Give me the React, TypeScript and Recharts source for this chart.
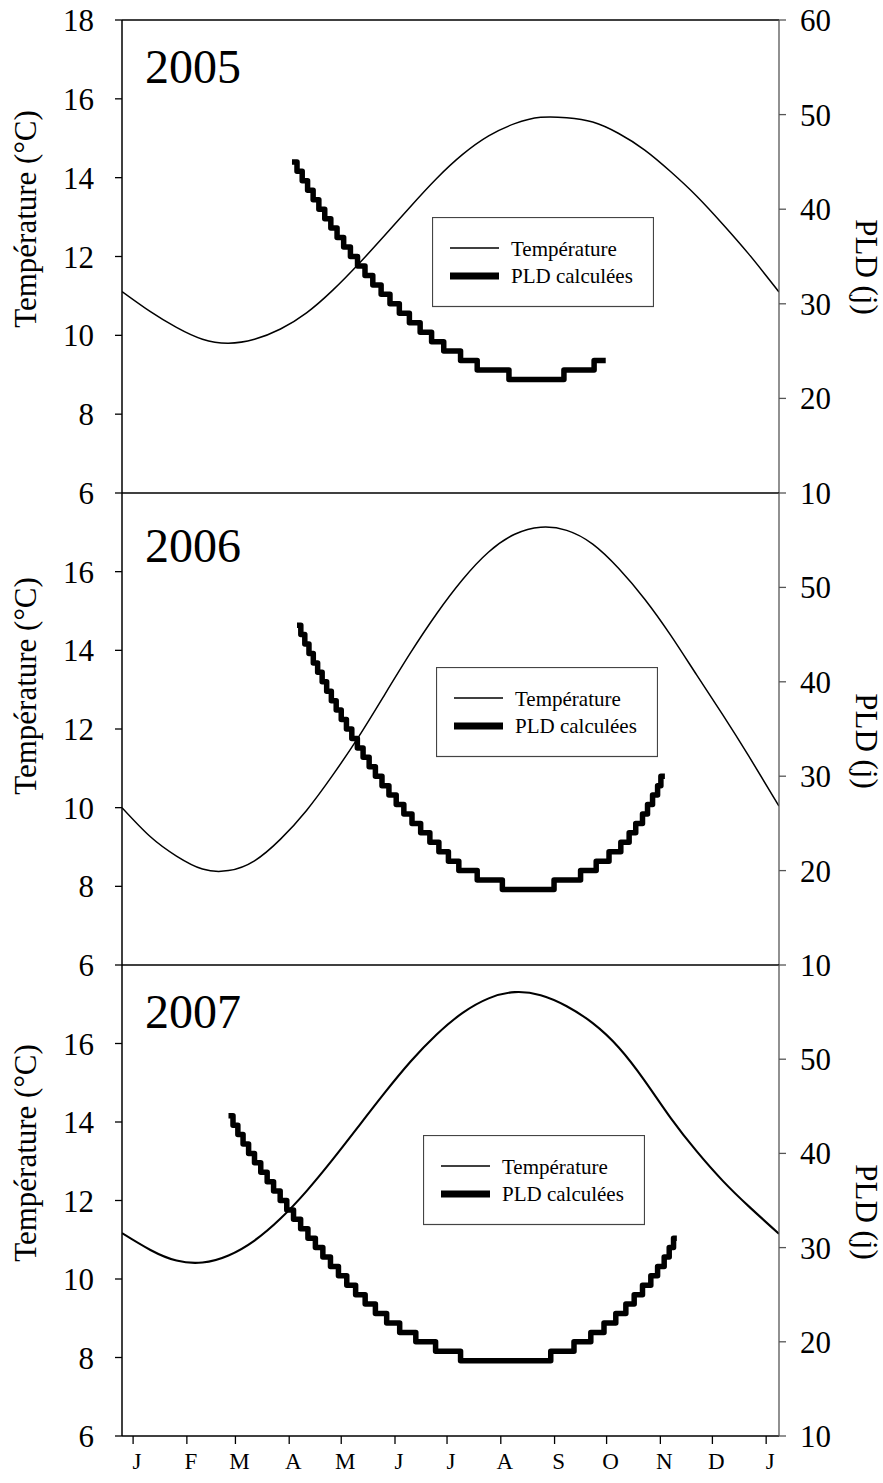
import React from 'react';
import { LineChart, Line, XAxis, YAxis, ReferenceLine, Label } from 'recharts';

const FONT = '"Liberation Serif", "Times New Roman", serif';

// ---- axes ----
const X_MIN = -6.4;
const X_MAX = 372.4;
const monthStarts = [0, 31, 59, 90, 120, 151, 181, 212, 243, 273, 304, 334, 365];
const monthLabels = ['J', 'F', 'M', 'A', 'M', 'J', 'J', 'A', 'S', 'O', 'N', 'D', 'J'];
const tempTicksFull = [6, 8, 10, 12, 14, 16, 18];
const tempTicksCut = [6, 8, 10, 12, 14, 16];
const pldTicksFull = [10, 20, 30, 40, 50, 60];
const pldTicksCut = [10, 20, 30, 40, 50];
const years = ['2005', '2006', '2007'];
const legendTemp = 'Température';
const legendPld = 'PLD calculées';

// ---- temperature (day of year, °C) ----
const tempDays = [-6.4, 10, 25, 40, 55, 70, 85, 100, 115, 130, 145, 160, 175, 190, 205, 220, 235, 250, 265, 280, 295, 310, 325, 340, 355, 372.4];
const temp2005 = [11.11, 10.6, 10.2, 9.9, 9.8, 9.9, 10.16, 10.57, 11.14, 11.81, 12.53, 13.27, 13.98, 14.59, 15.06, 15.37, 15.53, 15.52, 15.41, 15.12, 14.7, 14.15, 13.53, 12.82, 12.06, 11.1];
const temp2006 = [10.0, 9.26, 8.77, 8.44, 8.4, 8.65, 9.2, 9.93, 10.82, 11.8, 12.87, 13.94, 14.93, 15.8, 16.5, 16.95, 17.13, 17.05, 16.7, 16.08, 15.3, 14.38, 13.37, 12.36, 11.31, 10.04];
const temp2007 = [11.17, 10.74, 10.47, 10.42, 10.6, 10.98, 11.54, 12.24, 13.04, 13.89, 14.74, 15.54, 16.23, 16.78, 17.15, 17.31, 17.23, 16.95, 16.52, 15.9, 15.05, 14.1, 13.25, 12.5, 11.85, 11.15];

// ---- computed PLD (day where the value starts, days) ----
const pldDays2005 = [91.6, 94.5, 97.5, 100.6, 103.8, 107.1, 110.5, 114, 117.6, 121.4, 125.3, 129.4, 133.7, 138.2, 143, 148.1, 153.5, 159.3, 165.5, 172.1, 179.1, 188.8, 198.4, 216.7, 248.4, 265.8, 272.5];
const pld2005 = [45, 44, 43, 42, 41, 40, 39, 38, 37, 36, 35, 34, 33, 32, 31, 30, 29, 28, 27, 26, 25, 24, 23, 22, 23, 24, 24];

const pldDays2006 = [94.5, 96.7, 99, 101.4, 103.9, 106.4, 109, 111.6, 114.3, 117.1, 120, 123, 126.1, 129.3, 132.6, 136.1, 139.7, 143.5, 147.5, 151.7, 156.1, 160.8, 165.8, 171.1, 176.3, 181.8, 187.8, 198.4, 212.9, 242.7, 258, 267, 274.4, 281.2, 286, 289.8, 293.7, 296.6, 299.5, 302.4, 304.3, 306.6];
const pld2006 = [46, 45, 44, 43, 42, 41, 40, 39, 38, 37, 36, 35, 34, 33, 32, 31, 30, 29, 28, 27, 26, 25, 24, 23, 22, 21, 20, 19, 18, 19, 20, 21, 22, 23, 24, 25, 26, 27, 28, 29, 30, 30];

const pldDays2007 = [55, 57.6, 60.4, 63.4, 66.6, 70.0, 73.6, 77.3, 81.0, 84.8, 88.6, 92.5, 96.6, 100.8, 105.1, 109.4, 113.8, 118.4, 123.2, 128.3, 133.8, 139.7, 146.2, 153.7, 163.0, 174.4, 188.8, 240.8, 254.2, 263.9, 271.5, 278.3, 284.1, 288.9, 293.7, 298.5, 302.4, 306.2, 309.1, 311.6, 313.5];
const pld2007 = [44, 43, 42, 41, 40, 39, 38, 37, 36, 35, 34, 33, 32, 31, 30, 29, 28, 27, 26, 25, 24, 23, 22, 21, 20, 19, 18, 19, 20, 21, 22, 23, 24, 25, 26, 27, 28, 29, 30, 31, 31];

const zip = (ds: number[], vs: number[]) => ds.map((d, i) => ({ d, v: vs[i] }));

type PanelCfg = {
  year: string;
  temp: { d: number; v: number }[];
  pld: { d: number; v: number }[];
  top: number;
  height: number;
  mt: number;
  mb: number;
  showX: boolean;
  leftTicks: number[];
  rightTicks: number[];
  tw: number;
  yearDy: number;
  leftTitleDy: number;
  rightTitleDy: number;
  legend: { x: number; y: number };
};

const panels: PanelCfg[] = [
  { year: years[0], temp: zip(tempDays, temp2005), pld: zip(pldDays2005, pld2005), top: 0, height: 520, mt: 20, mb: 27, showX: false, leftTicks: tempTicksFull, rightTicks: pldTicksFull, tw: 1.5, yearDy: 63, leftTitleDy: 199, rightTitleDy: 247, legend: { x: 432, y: 217 } },
  { year: years[1], temp: zip(tempDays, temp2006), pld: zip(pldDays2006, pld2006), top: 466, height: 526, mt: 27, mb: 27, showX: false, leftTicks: tempTicksCut, rightTicks: pldTicksCut, tw: 1.5, yearDy: 69, leftTitleDy: 193, rightTitleDy: 248, legend: { x: 436, y: 667 } },
  { year: years[2], temp: zip(tempDays, temp2007), pld: zip(pldDays2007, pld2007), top: 938, height: 545, mt: 27, mb: 0, showX: true, leftTicks: tempTicksCut, rightTicks: pldTicksCut, tw: 2.1, yearDy: 63, leftTitleDy: 188, rightTitleDy: 247, legend: { x: 423, y: 1135 } },
];

const tickStyle = { fill: '#000', fontSize: 31, fontFamily: FONT, style: { fontFamily: FONT } };

function Panel({ c }: { c: PanelCfg }) {
  return (
    <div style={{ position: 'absolute', left: 0, top: c.top, width: 883, height: c.height }}>
      <LineChart width={883} height={c.height} margin={{ top: c.mt, right: 44, bottom: c.mb, left: 0 }}>
        <XAxis
          dataKey="d"
          type="number"
          domain={[X_MIN, X_MAX]}
          allowDataOverflow
          ticks={monthStarts}
          interval={0}
          height={c.showX ? 47 : 0}
          tick={c.showX ? { fill: '#000', fontSize: 23, fontFamily: FONT, style: { fontFamily: FONT }, dx: 4 } : false}
          tickLine={c.showX ? { stroke: '#000', strokeWidth: 1.3 } : false}
          tickSize={8}
          tickMargin={9}
          axisLine={{ stroke: '#000', strokeWidth: 1.5 }}
          tickFormatter={(v: number) => monthLabels[monthStarts.indexOf(v)]}
        />
        <YAxis
          yAxisId="L"
          orientation="left"
          width={122}
          domain={[6, 18]}
          allowDataOverflow
          ticks={c.leftTicks}
          interval={0}
          tickSize={7}
          tickMargin={21}
          tick={tickStyle}
          axisLine={{ stroke: '#000', strokeWidth: 1.5 }}
          tickLine={{ stroke: '#000', strokeWidth: 1.3 }}
        >
          <Label
            content={(p: any) => {
              const vb = p.viewBox || { y: c.mt };
              const cy = vb.y + c.leftTitleDy;
              return (
                <text x={36} y={cy} transform={`rotate(-90 36 ${cy})`} textAnchor="middle" fontSize={31} fontFamily={FONT} style={{ fontFamily: FONT }} fill="#000">
                  Température (°C)
                </text>
              );
            }}
          />
        </YAxis>
        <YAxis
          yAxisId="R"
          orientation="right"
          width={60}
          domain={[10, 60]}
          allowDataOverflow
          ticks={c.rightTicks}
          interval={0}
          tickSize={7}
          tickMargin={14}
          tick={tickStyle}
          axisLine={{ stroke: '#555', strokeWidth: 1.3 }}
          tickLine={{ stroke: '#555', strokeWidth: 1.3 }}
        >
          <Label
            content={(p: any) => {
              const vb = p.viewBox || { y: c.mt };
              const cy = vb.y + c.rightTitleDy;
              return (
                <text x={856} y={cy} transform={`rotate(90 856 ${cy})`} textAnchor="middle" fontSize={31} fontFamily={FONT} style={{ fontFamily: FONT }} fill="#000">
                  PLD (j)
                </text>
              );
            }}
          />
        </YAxis>
        <ReferenceLine
          yAxisId="L"
          y={18}
          stroke="#000"
          strokeWidth={1.5}
          label={{
            content: (p: any) => {
              const vb = p.viewBox || { x: 122, y: c.mt };
              return (
                <text x={vb.x + 23} y={vb.y + c.yearDy} fontSize={48} fontFamily={FONT} style={{ fontFamily: FONT }} fill="#000">
                  {c.year}
                </text>
              );
            },
          } as any}
        />
        <Line
          yAxisId="L"
          data={c.temp}
          dataKey="v"
          name={legendTemp}
          type="natural"
          stroke="#000"
          strokeWidth={c.tw}
          dot={false}
          activeDot={false}
          isAnimationActive={false}
        />
        <Line
          yAxisId="R"
          data={c.pld}
          dataKey="v"
          name={legendPld}
          type="stepAfter"
          stroke="#000"
          strokeWidth={5.5}
          strokeLinejoin="round"
          dot={false}
          activeDot={false}
          isAnimationActive={false}
        />
      </LineChart>
    </div>
  );
}

function LegendBox({ x, y }: { x: number; y: number }) {
  return (
    <svg style={{ position: 'absolute', left: x, top: y, fontFamily: FONT }} width={222} height={91}>
      <rect x={0.5} y={0.5} width={221} height={89} fill="none" stroke="#444" strokeWidth={1.2} />
      <line x1={18} x2={67} y1={31} y2={31} stroke="#000" strokeWidth={1.5} />
      <line x1={18} x2={67} y1={59} y2={59} stroke="#000" strokeWidth={7} />
      <text x={79} y={39} fontSize={21} fontFamily={FONT} fill="#000">{legendTemp}</text>
      <text x={79} y={66} fontSize={21} fontFamily={FONT} fill="#000">{legendPld}</text>
    </svg>
  );
}

export default function App() {
  return (
    <div style={{ position: 'absolute', left: 0, top: 0, width: 883, height: 1483, background: '#fff', fontFamily: FONT }}>
      {panels.map((c) => (
        <Panel key={c.year} c={c} />
      ))}
      {panels.map((c) => (
        <LegendBox key={'lg' + c.year} x={c.legend.x} y={c.legend.y} />
      ))}
    </div>
  );
}
